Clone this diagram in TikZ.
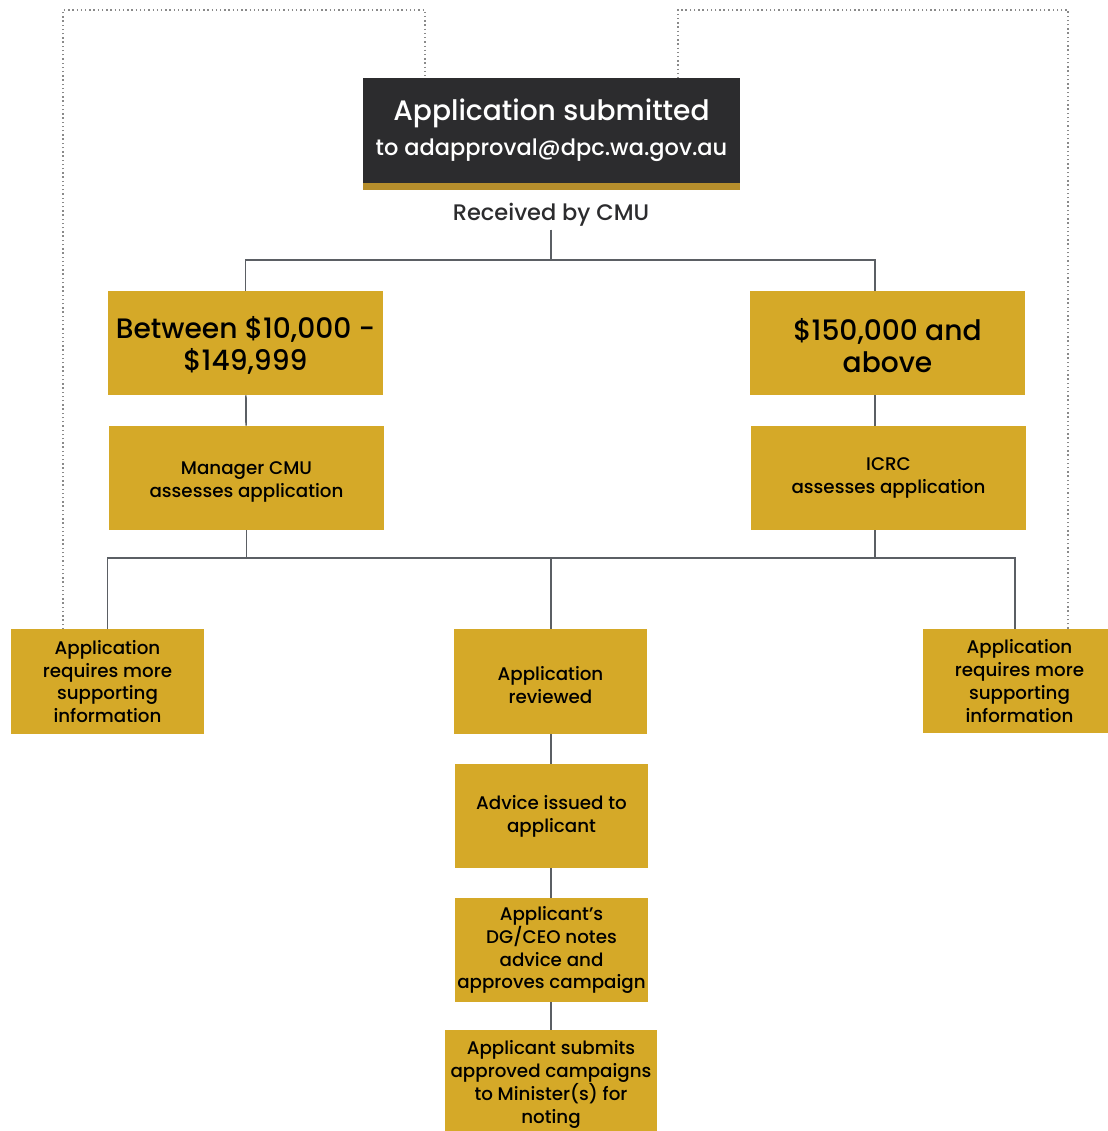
\documentclass[tikz,border=0pt]{standalone}
\usepackage{fontspec}
\setmainfont{Poppins}[UprightFont=* Medium, BoldFont=* SemiBold]
\usetikzlibrary{positioning}
\definecolor{boxgold}{HTML}{D5A928}
\definecolor{bargold}{HTML}{B68E2C}
\definecolor{darkgrey}{HTML}{2C2C2E}
\definecolor{linegrey}{HTML}{5B5F64}
\definecolor{dotgrey}{HTML}{8A8A8A}
\newcommand{\lowertext}[1]{\rule{0pt}{#1}}
\begin{document}
\begin{tikzpicture}[x=0.025cm, y=-0.025cm,
  gold_box/.style={rectangle, fill=boxgold, inner sep=0pt, align=center, text=black, font=\fontsize{13}{16.3}\selectfont},
  wide_box/.style={gold_box, minimum width=6.875cm, minimum height=2.6cm},
  range_box/.style={wide_box, font=\fontsize{20}{22.7}\selectfont},
  small_box/.style={gold_box, minimum width=4.825cm, minimum height=2.6cm},
  dark_box/.style={rectangle, fill=darkgrey, inner sep=0pt, align=center, text=white, minimum width=9.425cm, minimum height=2.625cm},
  link/.style={draw=linegrey, line width=1.2pt},
  dots/.style={draw=dotgrey, line width=1pt, dotted}]

  \useasboundingbox (0,0) rectangle (1107,1131);

  \node[dark_box] (submitted) at (551.5,130.5) {{\fontsize{20}{26}\selectfont Application submitted}\\[7pt]{\fontsize{16}{20}\selectfont to adapproval@dpc.wa.gov.au}};
  \fill[bargold] (submitted.south west) rectangle ([yshift=-0.175cm]submitted.south east);
  \node[text=darkgrey, font=\fontsize{16}{20}\selectfont, inner sep=2pt] (received) at (551,215) {Received by CMU};

  \node[range_box] (low) at (245.5,343) {\lowertext{19pt}Between \$10,000 -\\\$149,999};
  \node[range_box] (high) at (887.5,343) {\lowertext{19pt}\$150,000 and\\above};
  \node[wide_box] (manager) at (246.5,478) {\lowertext{15pt}Manager CMU\\assesses application};
  \node[wide_box] (icrc) at (888.5,478) {ICRC\\assesses application};

  \node[small_box] (moreL) at (107.5,681.5) {Application\\requires more\\supporting\\information};
  \node[small_box] (reviewed) at (550.5,681.5) {\lowertext{14.5pt}Application\\reviewed};
  \node[small_box] (moreR) at (1019.5,681) {Application\\requires more\\supporting\\information};
  \node[small_box] (advice) at (551.5,816) {Advice issued to\\applicant};
  \node[small_box] (approves) at (551.5,950) {Applicant’s\\DG/CEO notes\\advice and\\approves campaign};
  \node[gold_box, minimum width=5.3cm, minimum height=2.525cm] (submits) at (551,1080.5) {\lowertext{15.5pt}Applicant submits\\approved campaigns\\to Minister(s) for\\noting};

  \coordinate (split1) at (551,260);
  \coordinate (split2) at (551,558);
  \coordinate (rightcol) at (875,0);
  \coordinate (farright) at (1015,0);
  \coordinate (backL) at (63,10);
  \coordinate (backR) at (1068,10);

  % solid connectors
  \draw[link] (received.south) -- (split1);
  \draw[link] (low.north) |- (split1) -| (high.north -| rightcol);
  \draw[link] (low) -- (manager);
  \draw[link] (high.south -| rightcol) -- (icrc.north -| rightcol);
  \draw[link] (manager.south) |- (split2) -| (icrc.south -| rightcol);
  \draw[link] (moreL.north) |- (split2) -| (moreR.north -| farright);
  \draw[link] (split2) -- (split2 |- reviewed.north);
  \draw[link] (reviewed.south -| split2) -- (advice.north -| split2);
  \draw[link] (advice.south -| split2) -- (approves.north -| split2);
  \draw[link] (approves.south -| split2) -- (submits.north -| split2);

  % dotted loops back to the top
  \draw[dots] (moreL.north -| backL) -- (backL) -| ([xshift=-3.1625cm]submitted.north);
  \draw[dots] (moreR.north -| backR) -- (backR) -| ([xshift=3.1625cm]submitted.north);
\end{tikzpicture}
\end{document}
